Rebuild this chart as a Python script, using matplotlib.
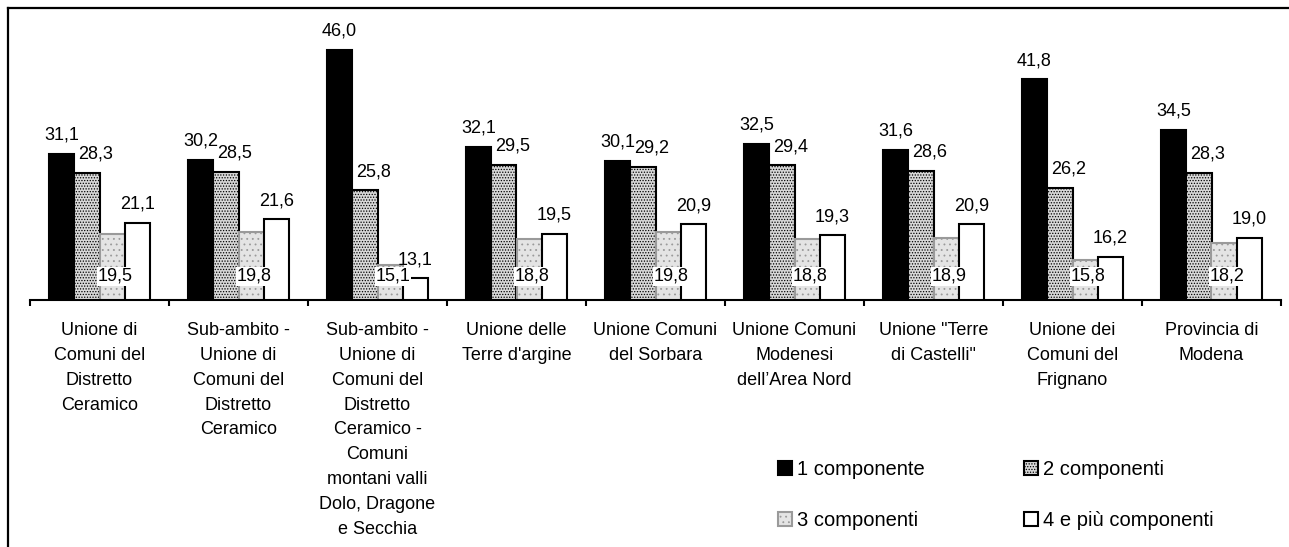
import matplotlib
matplotlib.use("Agg")
import matplotlib.pyplot as plt
from matplotlib.lines import Line2D
import numpy as np

plt.rcParams['font.family'] = ['Liberation Sans', 'DejaVu Sans']
plt.rcParams['hatch.linewidth'] = 0.6

categories = [
    "Unione di\nComuni del\nDistretto\nCeramico",
    "Sub-ambito -\nUnione di\nComuni del\nDistretto\nCeramico",
    "Sub-ambito -\nUnione di\nComuni del\nDistretto\nCeramico -\nComuni\nmontani valli\nDolo, Dragone\ne Secchia",
    "Unione delle\nTerre d'argine",
    "Unione Comuni\ndel Sorbara",
    "Unione Comuni\nModenesi\ndell\u2019Area Nord",
    "Unione \"Terre\ndi Castelli\"",
    "Unione dei\nComuni del\nFrignano",
    "Provincia di\nModena",
]
series_names = ["1 componente", "2 componenti", "3 componenti", "4 e più componenti"]
comp1 = [31.1, 30.2, 46.0, 32.1, 30.1, 32.5, 31.6, 41.8, 34.5]
comp2 = [28.3, 28.5, 25.8, 29.5, 29.2, 29.4, 28.6, 26.2, 28.3]
comp3 = [19.5, 19.8, 15.1, 18.8, 19.8, 18.8, 18.9, 15.8, 18.2]
comp4 = [21.1, 21.6, 13.1, 19.5, 20.9, 19.3, 20.9, 16.2, 19.0]

W, H = 1289, 547
fig = plt.figure(figsize=(W / 100, H / 100), dpi=100)
ax = fig.add_axes([30 / W, 1 - 300 / H, 1251 / W, 277.6 / H])

x = np.arange(len(categories))
bw = 0.182
styles = [
    dict(color='black', edgecolor='black'),
    dict(color='#d8d8d8', edgecolor='black', hatch='......'),
    dict(color='#e4e4e4', edgecolor='#9a9a9a', hatch='...'),
    dict(color='white', edgecolor='black'),
]
allvals = [comp1, comp2, comp3, comp4]
bars = []
for i, (vals, st) in enumerate(zip(allvals, styles)):
    b = ax.bar(x + (i - 1.5) * bw, vals, bw, linewidth=1.5, label=series_names[i], **st)
    bars.append(b)

def fmt(v):
    return f"{v:.1f}".replace('.', ',')

ymin = 10
fs = 13
for i, vals in enumerate(allvals):
    for j, v in enumerate(vals):
        xc = x[j] + (i - 1.5) * bw
        if i == 2:
            ax.annotate(fmt(v), (xc, ymin), xytext=(2, 17), textcoords='offset points',
                        ha='center', va='center', fontsize=fs,
                        bbox=dict(boxstyle='square,pad=0.05', fc='white', ec='none'))
        else:
            dx = 6.5 if i == 1 else 0
            ax.annotate(fmt(v), (xc, v), xytext=(dx, 13.5), textcoords='offset points',
                        ha='center', va='center', fontsize=fs)

ax.set_xlim(-0.5, len(categories) - 0.5)
ax.set_ylim(ymin, 50)
ax.set_yticks([])
for s in ['top', 'right', 'left']:
    ax.spines[s].set_visible(False)
ax.spines['bottom'].set_linewidth(1.5)
ax.set_xticks(x)
ax.set_xticklabels(categories, fontsize=fs, linespacing=1.6)
ax.tick_params(axis='x', which='major', length=0, pad=16)
ax.set_xticks(np.arange(len(categories) + 1) - 0.5, minor=True)
ax.tick_params(axis='x', which='minor', length=4, width=1.5, direction='out')

# legend filled row by row: 1, 2 on top, 3, 4 below
order = [0, 2, 1, 3]
fig.legend(handles=[bars[k] for k in order], labels=[series_names[k] for k in order],
           ncol=2, loc='center',
           bbox_to_anchor=(996 / W, 1 - 495 / H), frameon=False, fontsize=14.5,
           handlelength=0.7, handleheight=0.7, handletextpad=0.25,
           columnspacing=4.9, labelspacing=1.6, borderpad=0)

# outer chart frame (top and left edges visible)
fig.add_artist(Line2D([8 / W, 8 / W], [0, 1 - 8 / H], color='black', lw=1.6))
fig.add_artist(Line2D([8 / W, 1], [1 - 8 / H, 1 - 8 / H], color='black', lw=1.6))

fig.savefig("out.png", dpi=100)
